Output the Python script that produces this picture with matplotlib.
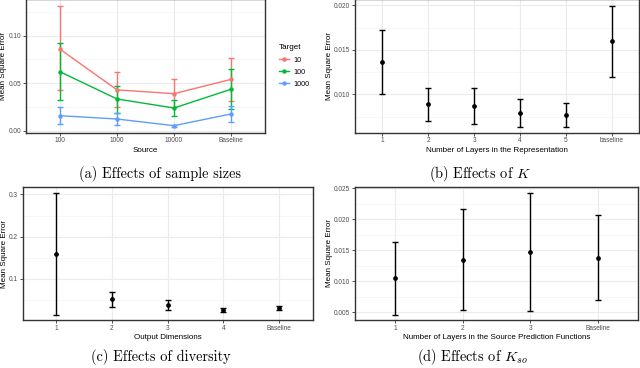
import matplotlib
matplotlib.use("Agg")
import matplotlib.pyplot as plt
from matplotlib.lines import Line2D
import numpy as np

plt.rcParams['mathtext.fontset'] = 'cm'
SANS = 'Liberation Sans'
SERIF = 'cmr10'

# ---- Panel (a) data ----
a_sources = ["100", "1000", "10000", "Baseline"]
a_targets = ["10", "100", "1000"]
a_colors = ["#F8766D", "#00BA38", "#619CFF"]
a_mean = {
    "10":   [0.0857, 0.0430, 0.0390, 0.0540],
    "100":  [0.0620, 0.0334, 0.0239, 0.0436],
    "1000": [0.0158, 0.0123, 0.0053, 0.0176],
}
a_low = {
    "10":   [0.0425, 0.0250, 0.0250, 0.0310],
    "100":  [0.0320, 0.0186, 0.0152, 0.0225],
    "1000": [0.0067, 0.0057, 0.0043, 0.0088],
}
a_high = {
    "10":   [0.1310, 0.0615, 0.0540, 0.0765],
    "100":  [0.0926, 0.0474, 0.0326, 0.0646],
    "1000": [0.0253, 0.0186, 0.0063, 0.0260],
}

# ---- Panel (b) data ----
b_labels = ["1", "2", "3", "4", "5", "baseline"]
b_mean = [0.01367, 0.00888, 0.00869, 0.00793, 0.00770, 0.01593]
b_low = [0.01005, 0.00703, 0.00664, 0.00633, 0.00633, 0.01193]
b_high = [0.01721, 0.01069, 0.01076, 0.00952, 0.00906, 0.01996]

# ---- Panel (c) data ----
c_labels = ["1", "2", "3", "4", "Baseline"]
c_mean = [0.160, 0.0524, 0.0389, 0.0278, 0.0317]
c_low = [0.0159, 0.0349, 0.0270, 0.0230, 0.0278]
c_high = [0.303, 0.0683, 0.0492, 0.0320, 0.0357]

# ---- Panel (d) data ----
d_labels = ["1", "2", "3", "Baseline"]
d_mean = [0.01046, 0.01351, 0.01476, 0.01381]
d_low = [0.00462, 0.00543, 0.00527, 0.00697]
d_high = [0.01635, 0.02162, 0.02424, 0.02069]

fig = plt.figure(figsize=(6.4, 3.68), dpi=100)
W, H = 640.0, 368.0

def add_axes(l, r, t, b):
    return fig.add_axes([l / W, 1 - b / H, (r - l) / W, (b - t) / H])

def style(ax, labels, yticks, ylim, yfmt, minor, xlabel):
    n = len(labels)
    x = np.arange(1, n + 1)
    ax.set_xlim(0.4, n + 0.6)
    ax.set_ylim(*ylim)
    ax.set_xticks(x)
    ax.set_xticklabels(labels)
    ax.set_yticks(yticks)
    ax.set_yticklabels([yfmt.format(v) for v in yticks])
    for v in minor:
        ax.axhline(v, color="#F2F2F2", lw=0.4, zorder=0)
    for v in yticks:
        ax.axhline(v, color="#EBEBEB", lw=0.8, zorder=0)
    for v in x:
        ax.axvline(v, color="#EBEBEB", lw=0.8, zorder=0)
    for s in ax.spines.values():
        s.set_color("#333333")
        s.set_linewidth(1.0)
    ax.tick_params(axis="both", length=2.2, width=0.6, color="#333333",
                   labelsize=4.7, labelcolor="#4D4D4D", pad=1.2)
    for lab in ax.get_xticklabels() + ax.get_yticklabels():
        lab.set_family(SANS)
    ax.set_xlabel(xlabel, fontsize=5.8, family=SANS, labelpad=1.5)
    ax.set_ylabel("Mean Square Error", fontsize=5.8, family=SANS, labelpad=1.0)
    ax.set_facecolor("white")
    return x

def errbars(ax, x, mean, low, high, color, lw=1.0, ms=2.4):
    mean = np.asarray(mean); low = np.asarray(low); high = np.asarray(high)
    ax.errorbar(x, mean, yerr=[mean - low, high - mean], fmt="o", color=color,
                ms=ms, elinewidth=lw, capsize=2.5, capthick=lw, zorder=3)

# Panel a
axa = add_axes(26, 265, -1, 132.7)
xa = style(axa, a_sources, [0.00, 0.05, 0.10], (-0.0021, 0.1387), "{:.2f}",
           [0.025, 0.075, 0.125], "Source")
handles = []
for t, c in zip(a_targets, a_colors):
    axa.plot(xa, a_mean[t], color=c, lw=1.0, zorder=3)
    errbars(axa, xa, a_mean[t], a_low[t], a_high[t], c, lw=1.0, ms=2.2)
    handles.append(Line2D([0], [0], color=c, lw=1.0, marker="o", ms=2.2))
leg = fig.legend(handles, a_targets, title="Target", loc="upper left",
                 bbox_to_anchor=(272 / W, 1 - 38 / H), frameon=False,
                 prop={"family": SANS, "size": 5.2}, handlelength=1.5,
                 handletextpad=0.6, labelspacing=0.7)
leg.get_title().set_family(SANS)
leg.get_title().set_fontsize(5.8)
leg._legend_box.align = "left"

# Panel b
axb = add_axes(355, 639, -1, 132.7)
xb = style(axb, b_labels, [0.010, 0.015, 0.020], (0.00569, 0.0207), "{:.3f}",
           [0.0075, 0.0125, 0.0175], "Number of Layers in the Representation")
errbars(axb, xb, b_mean, b_low, b_high, "black")

# Panel c
axc = add_axes(22.7, 312.7, 187.3, 320)
xc = style(axc, c_labels, [0.1, 0.2, 0.3], (0.0031, 0.3167), "{:.1f}",
           [0.05, 0.15, 0.25], "Output Dimensions")
errbars(axc, xc, c_mean, c_low, c_high, "black")

# Panel d
axd = add_axes(355, 638, 186.7, 320)
xd = style(axd, d_labels, [0.005, 0.010, 0.015, 0.020, 0.025], (0.00376, 0.02527),
           "{:.3f}", [0.0075, 0.0125, 0.0175, 0.0225],
           "Number of Layers in the Source Prediction Functions")
errbars(axd, xd, d_mean, d_low, d_high, "black")

# Captions
cap = dict(fontsize=10.3, family=SERIF, ha="center", va="center")
fig.text(160 / W, 1 - 174 / H, "(a) Effects of sample sizes", **cap)
fig.text(480 / W, 1 - 174 / H, r"(b) Effects of $K$", **cap)
fig.text(161 / W, 1 - 357 / H, "(c) Effects of diversity", **cap)
fig.text(472 / W, 1 - 357 / H, r"(d) Effects of $K_{so}$", **cap)

fig.savefig("out.png", dpi=100, facecolor="white")
